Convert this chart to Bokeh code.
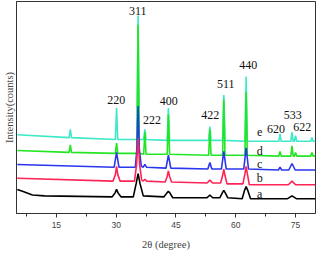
from bokeh.plotting import figure
from bokeh.models import FixedTicker, Range1d, ColumnDataSource
from bokeh.embed import file_html
from bokeh.resources import INLINE
from bokeh.core.properties import value

# ---- data (2theta in degrees, intensity in arbitrary counts, stacked traces) ----
e_x = [5.2, 18.2, 18.5, 18.8, 29.8, 30.1, 30.4, 35.2, 35.5, 35.8, 36.9, 37.2, 37.5,
       42.8, 43.1, 43.4, 53.2, 53.5, 53.8, 56.7, 57.0, 57.3, 62.3, 62.6, 62.9,
       70.8, 71.1, 71.4, 73.8, 74.1, 74.4, 74.7, 75.0, 75.3, 78.8, 79.1, 79.4, 80.0]
e_y = [85, 82, 91, 82, 80, 114, 80, 80, 214, 80, 80, 91, 80,
       79, 114, 79, 79, 94, 79, 79, 128, 79, 78, 148, 78,
       78, 86, 78, 78, 88, 78, 78, 84, 78, 78, 82, 78, 78]

d_x = [5.2, 18.2, 18.5, 18.8, 29.8, 30.1, 30.4, 35.2, 35.5, 35.8, 36.9, 37.2, 37.5,
       42.8, 43.1, 43.4, 53.2, 53.5, 53.8, 56.7, 57.0, 57.3, 62.3, 62.6, 62.9,
       70.8, 71.1, 71.4, 73.8, 74.1, 74.4, 74.7, 75.0, 75.3, 78.8, 79.1, 79.4, 80.0]
d_y = [68, 66, 74, 66, 65, 76, 65, 65, 204, 65, 64, 88, 64,
       64, 107, 64, 63, 91, 63, 63, 123, 63, 63, 131, 63,
       62, 67, 62, 62, 73, 62, 62, 66, 62, 62, 66, 62, 62]

c_x = [5.2, 29.5, 30.1, 30.7, 34.8, 35.2, 35.5, 35.8, 36.3, 36.8, 37.2, 37.6,
       42.5, 43.1, 43.7, 53.0, 53.5, 54.0, 56.4, 57.0, 57.6, 62.0, 62.6, 63.2,
       70.7, 71.1, 71.5, 73.3, 74.1, 74.9, 80.0]
c_y = [53, 50, 66, 50, 50, 70, 116, 70, 51, 50, 53, 50,
       49, 63, 49, 48, 55, 48, 48, 67, 48, 48, 71, 48,
       47, 50, 47, 47, 54, 47, 47]

b_x = [5.2, 29.2, 29.8, 30.1, 30.4, 31.0, 34.6, 35.1, 35.5, 35.9, 36.4, 36.8, 37.2, 37.6,
       42.3, 42.8, 43.1, 43.4, 43.9, 52.8, 53.5, 54.2, 56.2, 56.7, 57.0, 57.3, 57.8,
       61.8, 62.3, 62.6, 62.9, 63.4, 73.2, 74.1, 75.0, 80.0]
b_y = [38, 35, 42, 51, 42, 35, 35, 52, 81, 52, 36, 35, 37, 35,
       34, 40, 46, 40, 34, 33, 36, 33, 33, 41, 48, 41, 32,
       32, 43, 51, 43, 31, 31, 35, 31, 31]

a_x = [5.2, 6.5, 9.0, 12.0, 29.0, 29.7, 30.1, 30.5, 31.2, 34.3, 35.0, 35.5, 36.0, 36.8,
       42.0, 42.7, 43.1, 43.5, 44.2, 52.8, 53.5, 54.2, 56.0, 56.6, 57.0, 57.4, 58.0,
       61.6, 62.2, 62.6, 63.0, 63.7, 73.0, 74.1, 75.2, 80.0]
a_y = [26, 24, 20, 19, 18, 22, 26, 22, 18, 18, 32, 43, 32, 19,
       18, 22, 24, 22, 17, 17, 20, 17, 17, 22, 25, 22, 17,
       16, 25, 29, 25, 16, 16, 19, 16, 16]

series_names = ["e", "d", "c", "b", "a"]
series_colors = ["#3ee8c8", "#22e622", "#2a36ee", "#ff2455", "#000000"]

hkl_labels = ["220", "311", "222", "400", "422", "511", "440", "620", "533", "622"]
hkl_label_x = [30.05, 35.4, 39.0, 43.2, 53.6, 57.5, 63.1, 70.1, 74.3, 76.7]
hkl_label_y = [123, 219, 101, 122, 106, 140, 160, 91, 106, 93]

letter_x = 66.0
letter_y = [88, 68, 53, 38, 21]

x_ticks = [15, 30, 45, 60, 75]
x_minor = [7.5, 22.5, 37.5, 52.5, 67.5]

# ---- figure ----
p = figure(width=317, height=252, output_backend="svg", toolbar_location=None,
           x_range=Range1d(5, 80), y_range=Range1d(0, 229),
           min_border_left=14, min_border_right=2, min_border_top=1, min_border_bottom=30)
p.grid.visible = False
p.background_fill_color = "white"
p.border_fill_color = "white"
p.outline_line_color = "#333333"
p.outline_line_width = 1

traces = [(e_x, e_y), (d_x, d_y), (c_x, c_y), (b_x, b_y), (a_x, a_y)]
for (xs, ys), col in zip(traces, series_colors):
    p.line(xs, ys, line_color=col, line_width=1.6)

src = ColumnDataSource(dict(x=hkl_label_x, y=hkl_label_y, t=hkl_labels))
p.text(x="x", y="y", text="t", source=src, text_align="center", text_baseline="middle",
       text_font=value("Liberation Serif"), text_font_size="12px", text_color="#111111")

lsrc = ColumnDataSource(dict(x=[letter_x] * len(series_names), y=letter_y, t=series_names))
p.text(x="x", y="y", text="t", source=lsrc, text_align="center", text_baseline="middle",
       text_font=value("Liberation Serif"), text_font_size="12px", text_color="#111111")

# x axis
xa = p.xaxis[0]
xa.ticker = FixedTicker(ticks=x_ticks, minor_ticks=x_minor)
xa.axis_line_color = "#333333"
xa.major_tick_in = 0
xa.major_tick_out = 4
xa.minor_tick_in = 0
xa.minor_tick_out = 3
xa.major_tick_line_color = "#333333"
xa.minor_tick_line_color = "#333333"
xa.major_label_text_font = "Liberation Sans"
xa.major_label_text_font_size = "8.5px"
xa.major_label_standoff = 4
xa.axis_label = "2θ (degree)"
xa.axis_label_text_font = "Liberation Serif"
xa.axis_label_text_font_style = "normal"
xa.axis_label_text_font_size = "10.5px"
xa.axis_label_standoff = 8

# y axis (no ticks, label only)
ya = p.yaxis[0]
ya.ticker = FixedTicker(ticks=[], minor_ticks=[])
ya.axis_line_color = "#333333"
ya.major_tick_line_color = None
ya.minor_tick_line_color = None
ya.major_label_standoff = 0
ya.axis_label = "Intensity(counts)"
ya.axis_label_text_font = "Liberation Serif"
ya.axis_label_text_font_style = "normal"
ya.axis_label_text_font_size = "10.5px"
ya.axis_label_standoff = 2

open("out.html", "w").write(file_html(p, INLINE))
